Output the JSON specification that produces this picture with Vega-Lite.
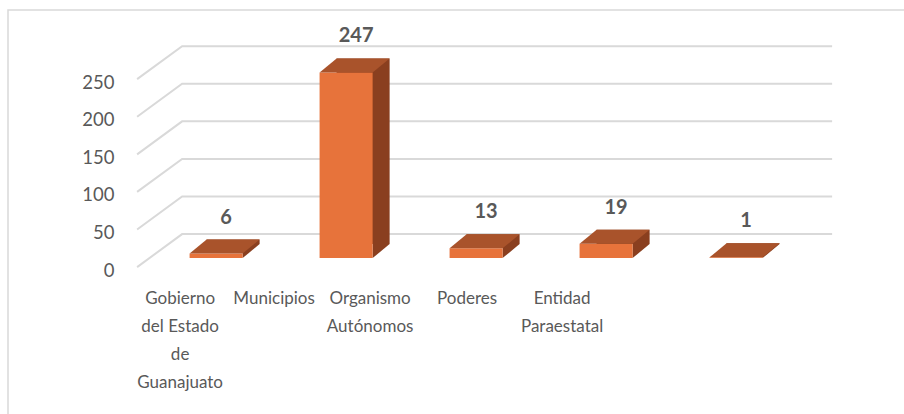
{
  "$schema": "https://vega.github.io/schema/vega-lite/v6.json",
  "width": 898,
  "height": 406,
  "autosize": {"type": "none"},
  "padding": {"left": 8, "top": 10, "right": -2, "bottom": -2},
  "background": "white",
  "config": {"view": {"stroke": "#D9D9D9", "strokeWidth": 1.5}, "font": "Lato"},
  "datasets": {
    "entidades": [
      {"entidad": "Gobierno del Estado de Guanajuato", "valor": 6},
      {"entidad": "Municipios", "valor": 247},
      {"entidad": "Organismo Autónomos", "valor": 13},
      {"entidad": "Poderes", "valor": 19},
      {"entidad": "Entidad Paraestatal", "valor": 1}
    ],
    "rejilla": [
      {"nivel": 0}, {"nivel": 50}, {"nivel": 100}, {"nivel": 150}, {"nivel": 200}, {"nivel": 250}
    ]
  },
  "layer": [
    {
      "layer": [
        {
          "data": {"name": "rejilla"},
          "mark": {"type": "point", "shape": "M -79 9 L -34 -24 L 616 -24", "size": 4, "filled": false, "stroke": "#D9D9D9", "strokeWidth": 2, "opacity": 1},
          "encoding": {
            "x": {"datum": "Gobierno del Estado de Guanajuato", "type": "nominal",
                  "scale": {"type": "band", "domain": ["Gobierno del Estado de Guanajuato", "Municipios", "Organismo Autónomos", "Poderes", "Entidad Paraestatal"], "paddingInner": 0, "paddingOuter": 0.954, "align": 0.577},
                  "axis": null},
            "y": {"field": "nivel", "type": "quantitative",
                  "scale": {"domain": [-210, 330], "nice": false, "zero": false},
                  "axis": {"values": [0, 50, 100, 150, 200, 250], "grid": false, "domain": false, "ticks": false, "offset": -108, "labelPadding": 2, "labelOffset": 12, "labelFontSize": 18.5, "labelColor": "#595959", "labelFont": "Lato", "title": null}}
          }
        },
        {
          "data": {"name": "entidades"},
          "mark": {"type": "bar", "color": "#8A3F1F", "width": {"band": 0.408}, "xOffset": 17, "yOffset": -14, "y2Offset": -14},
          "encoding": {
            "x": {"field": "entidad", "type": "nominal", "axis": null},
            "y": {"field": "valor", "type": "quantitative"},
            "y2": {"datum": 0}
          }
        },
        {
          "data": {"name": "entidades"},
          "mark": {"type": "point", "shape": "M 26.5 0 L 26.5 -14 L 43.5 -14 Z", "size": 4, "filled": true, "color": "#8A3F1F", "strokeWidth": 0, "opacity": 1},
          "encoding": {
            "x": {"field": "entidad", "type": "nominal", "axis": null},
            "y": {"datum": 0, "type": "quantitative"}
          }
        },
        {
          "data": {"name": "entidades"},
          "mark": {"type": "bar", "color": "#E7733B", "width": {"band": 0.408}},
          "encoding": {
            "x": {"field": "entidad", "type": "nominal", "axis": null},
            "y": {"field": "valor", "type": "quantitative"},
            "y2": {"datum": 0}
          }
        },
        {
          "data": {"name": "entidades"},
          "mark": {"type": "point", "shape": "M -26.5 0 L 26.5 0 L 43.5 -14 L -9.5 -14 Z", "size": 4, "filled": true, "color": "#A9532B", "strokeWidth": 0, "opacity": 1},
          "encoding": {
            "x": {"field": "entidad", "type": "nominal", "axis": null},
            "y": {"field": "valor", "type": "quantitative"}
          }
        },
        {
          "data": {"name": "entidades"},
          "mark": {"type": "text", "font": "Lato", "fontWeight": "bold", "fontSize": 20, "color": "#595959", "dx": 10, "dy": -36, "baseline": "middle"},
          "encoding": {
            "x": {"field": "entidad", "type": "nominal", "axis": null},
            "y": {"field": "valor", "type": "quantitative"},
            "text": {"field": "valor", "type": "quantitative"}
          }
        }
      ]
    },
    {
      "data": {"name": "entidades"},
      "mark": {"type": "point", "opacity": 0},
      "encoding": {
        "x": {"field": "entidad", "type": "nominal",
              "scale": {"type": "band", "domain": ["Gobierno del Estado de Guanajuato", "Municipios", "Organismo Autónomos", "Poderes", "Entidad Paraestatal"], "paddingInner": 0, "paddingOuter": 0.954, "align": 0.577},
              "axis": {"orient": "bottom", "offset": -126, "domain": false, "ticks": false, "grid": false, "labelPadding": 0, "labelFontSize": 17, "labelFont": "Lato", "labelColor": "#595959", "labelLineHeight": 28, "labelAngle": 0, "labelLimit": 0, "labelOverlap": false, "labelBaseline": "top", "title": null,
                       "labelExpr": "datum.value == 'Gobierno del Estado de Guanajuato' ? ['Gobierno', 'del Estado', 'de', 'Guanajuato'] : datum.value == 'Organismo Autónomos' ? ['Organismo', 'Autónomos'] : datum.value == 'Entidad Paraestatal' ? ['Entidad', 'Paraestatal'] : datum.label",
                       "labelOffset": {"condition": [
                         {"test": "datum.value == 'Gobierno del Estado de Guanajuato'", "value": -36},
                         {"test": "datum.value == 'Municipios'", "value": -72},
                         {"test": "datum.value == 'Organismo Autónomos'", "value": -106},
                         {"test": "datum.value == 'Poderes'", "value": -139}
                       ], "value": -174}}}
      }
    }
  ],
  "resolve": {"scale": {"x": "independent"}, "axis": {"x": "independent"}}
}
